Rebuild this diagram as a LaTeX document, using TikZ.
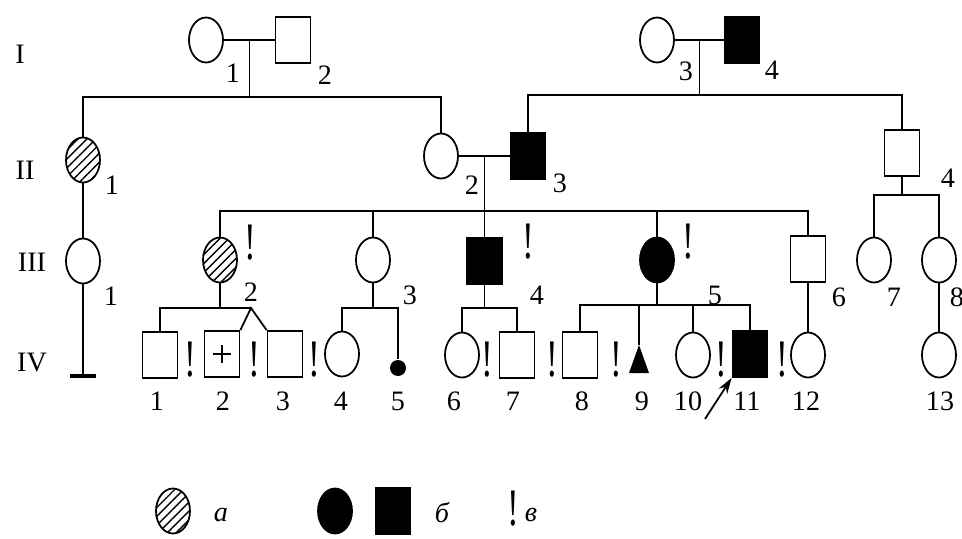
\documentclass[tikz,border=0pt]{standalone}
\usepackage{fontspec}
\setmainfont{Liberation Serif}
\usetikzlibrary{positioning,arrows.meta,shapes.geometric,patterns.meta,calc}
\newcommand{\excla}{\scalebox{1}[1.5]{!}}

\begin{document}
\begin{tikzpicture}[
  x=0.2mm, y=-0.2mm,
  line width=1pt,
  font=\fontsize{16}{18}\selectfont,
  fem/.style={ellipse,draw,minimum width=6.8mm,minimum height=9mm,inner sep=0pt},
  mal/.style={rectangle,draw,minimum width=7mm,minimum height=9.2mm,inner sep=0pt},
  aff/.style={fill=black},
  hatch/.style={pattern={Lines[angle=45,distance=3.6pt,line width=0.8pt]}},
  num/.style={inner sep=0pt},
  excl/.style={inner sep=0pt,font=\fontsize{20}{22}\selectfont},
  leg/.style={inner sep=0pt,font=\fontsize{16}{18}\selectfont\itshape},
  dot/.style={circle,fill=black,minimum size=3.2mm,inner sep=0pt},
]
\useasboundingbox (0,0) rectangle (962,539);

% generation labels
\node[num] (gI)   at (20,54)  {I};
\node[num] (gII)  at (25,170) {II};
\node[num] (gIII) at (32,262) {III};
\node[num] (gIV)  at (32,363) {IV};

% generation I
\node[fem] (i1) at (206,40) {};
\node[mal] (i2) at (293,40) {};
\node[fem] (i3) at (657,40) {};
\node[mal,aff] (i4) at (742,40) {};
\node[num] (li1) at (233,73) {1};
\node[num] (li2) at (325,75) {2};
\node[num] (li3) at (686,71) {3};
\node[num] (li4) at (772,70) {4};

% generation II
\node[fem,hatch] (ii1) at (83,160) {};
\node[fem] (ii2) at (441,156) {};
\node[mal,aff] (ii3) at (528,156) {};
\node[mal] (ii4) at (902,153) {};
\node[num] (lii1) at (112,185) {1};
\node[num] (lii2) at (472,185) {2};
\node[num] (lii3) at (560,183) {3};
\node[num] (lii4) at (948,178) {4};

% generation III
\node[fem] (iii1) at (83,261) {};
\node[fem,hatch] (iii2) at (220,260) {};
\node[fem] (iii3) at (373,260) {};
\node[mal,aff] (iii4) at (484.5,261) {};
\node[fem,aff] (iii5) at (657,260) {};
\node[mal] (iii6) at (808,259) {};
\node[fem] (iii7) at (874,260) {};
\node[fem] (iii8) at (939,260) {};
\node[num] (liii1) at (111,296) {1};
\node[num] (liii2) at (251,292) {2};
\node[num] (liii3) at (410,295) {3};
\node[num] (liii4) at (537,295) {4};
\node[num] (liii5) at (715,295) {5};
\node[num] (liii6) at (839,297) {6};
\node[num] (liii7) at (894,297) {7};
\node[num] (liii8) at (957,297) {8};
\node[excl] (xiii2) at (250,243) {\excla};
\node[excl] (xiii4) at (528,242) {\excla};
\node[excl] (xiii5) at (688,242) {\excla};

% generation IV
\node[mal] (iv1) at (160,355) {};
\node[mal,path picture={\draw[line width=1.4pt]
    ($(path picture bounding box.center)+(-9,0)$) -- +(18,0)
    ($(path picture bounding box.center)+(0,-9)$) -- +(0,18);}] (iv2) at (222,354) {};
\node[mal] (iv3) at (285,354) {};
\node[fem] (iv4) at (342,354) {};
\node[dot] (iv5) at (398,368) {};
\node[fem] (iv6) at (462,355) {};
\node[mal] (iv7) at (517,355) {};
\node[mal] (iv8) at (580,355) {};
\coordinate (iv9) at (639,345);
\fill (iv9) -- ++(10,28) -- ++(-20,0) -- cycle;
\node[fem] (iv10) at (693,355) {};
\node[mal,aff] (iv11) at (750,354) {};
\node[fem] (iv12) at (808,355) {};
\node[fem] (iv13) at (939,355) {};
\node[excl] (xiv1) at (190,360) {\excla};
\node[excl] (xiv2) at (254,360) {\excla};
\node[excl] (xiv3) at (314,360) {\excla};
\node[excl] (xiv6) at (487,360) {\excla};
\node[excl] (xiv7) at (552,360) {\excla};
\node[excl] (xiv8) at (616,360) {\excla};
\node[excl] (xiv10) at (721,360) {\excla};
\node[excl] (xiv11) at (782,360) {\excla};
\foreach \x/\t in {157/1,223/2,283/3,341/4,398/5,454/6,513/7,582/8,642/9,
                   688/10,747/11,806/12,940/13}
  \node[num] (niv\t) at (\x,401) {\t};

% marriages and descent
\coordinate (m1) at ($(i1)!.5!(i2)$);
\coordinate (m2) at ($(i3)!.5!(i4)$);
\coordinate (m3) at ($(ii2)!.5!(ii3)$);
\coordinate (s1) at (m1 |- 0,97);
\coordinate (s2) at (m2 |- 0,95);
\coordinate (s3) at (m3 |- 0,211);
\coordinate (s4) at (902,195);
\draw (i1) -- (i2);
\draw (i3) -- (i4);
\draw (ii2) -- (ii3);
\draw (m1) -- (s1);
\draw (m2) -- (s2);
\draw (ii1) |- (s1) -| (ii2);
\draw (ii3) |- (s2) -| (ii4);
\draw (ii1) -- (iii1);
\draw (m3) -- (iii4);
\draw (iii2) |- (s3) -| (iii6);
\draw (iii3) -- (iii3 |- s3);
\draw (iii5) -- (iii5 |- s3);
\draw (ii4) -- (s4);
\draw (iii7) |- (s4) -| (iii8);

% no offspring
\coordinate (nb) at (83,376);
\draw (iii1) -- (nb);
\draw[line width=2pt] ($(nb)+(-13,0)$) -- ($(nb)+(13,0)$);

% sibships of generation IV
\coordinate (s5) at (220,308);
\coordinate (tw) at (251,308);
\coordinate (s6) at (373,308);
\coordinate (s7) at (484.5,308);
\coordinate (s8) at (657,305);
\draw (iii2) -- (s5);
\draw (iv1) |- (tw);
\draw (iv2.north east) -- (tw) -- (iv3.north west);
\draw (iii3) -- (s6);
\draw (iv4) |- (s6) -| (iv5);
\draw (iii4) -- (s7);
\draw (iv6) |- (s7) -| (iv7);
\draw (iii5) -- (s8);
\draw (iv8) |- (s8) -| (iv11);
\draw (iv9) -- (iv9 |- s8);
\draw (iv10) -- (iv10 |- s8);
\draw (iii6) -- (iv12);
\draw (iii8) -- (iv13);

% proband
\coordinate (pb) at (705,419);
\draw[-{Stealth[length=3.2mm,width=2mm]}] (pb) -- (iv11.south west);

% legend
\node[fem,hatch] (la) at (173,511) {};
\node[leg] (ta) at (221,515) {а};
\node[fem,aff] (lb1) at (335,511) {};
\node[mal,aff] (lb2) at (393,511) {};
\node[leg] (tb) at (442,513) {б};
\node[excl] (lc) at (513,509) {\excla};
\node[leg] (tc) at (531,515) {в};
\end{tikzpicture}
\end{document}
